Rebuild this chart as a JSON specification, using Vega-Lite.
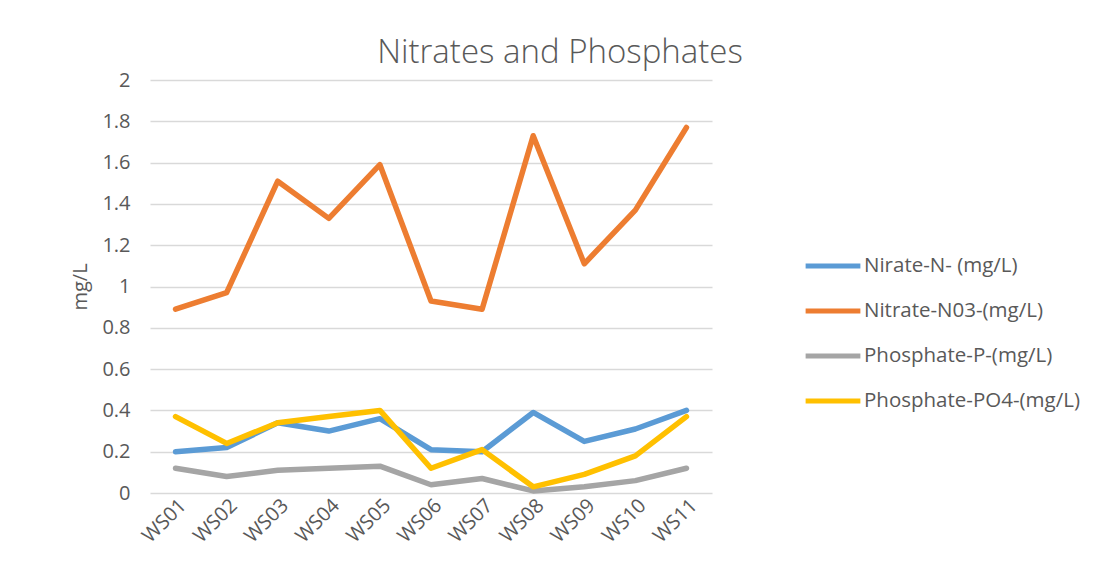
{
  "$schema": "https://vega.github.io/schema/vega-lite/v6.json",
  "width": 562,
  "height": 413,
  "autosize": {"type": "none"},
  "padding": {"left": 150, "top": 80, "right": 389, "bottom": 88},
  "background": "white",
  "title": {
    "text": "Nitrates and Phosphates",
    "font": "Open Sans",
    "fontSize": 33,
    "fontWeight": 300,
    "color": "#595959",
    "anchor": "middle",
    "dx": 129,
    "offset": 0
  },
  "config": {
    "view": {"stroke": null},
    "font": "Open Sans"
  },
  "data": {
    "values": [
      {"site": "WS01", "series": "Nirate-N- (mg/L)", "value": 0.20},
      {"site": "WS02", "series": "Nirate-N- (mg/L)", "value": 0.22},
      {"site": "WS03", "series": "Nirate-N- (mg/L)", "value": 0.34},
      {"site": "WS04", "series": "Nirate-N- (mg/L)", "value": 0.30},
      {"site": "WS05", "series": "Nirate-N- (mg/L)", "value": 0.36},
      {"site": "WS06", "series": "Nirate-N- (mg/L)", "value": 0.21},
      {"site": "WS07", "series": "Nirate-N- (mg/L)", "value": 0.20},
      {"site": "WS08", "series": "Nirate-N- (mg/L)", "value": 0.39},
      {"site": "WS09", "series": "Nirate-N- (mg/L)", "value": 0.25},
      {"site": "WS10", "series": "Nirate-N- (mg/L)", "value": 0.31},
      {"site": "WS11", "series": "Nirate-N- (mg/L)", "value": 0.40},
      {"site": "WS01", "series": "Nitrate-N03-(mg/L)", "value": 0.89},
      {"site": "WS02", "series": "Nitrate-N03-(mg/L)", "value": 0.97},
      {"site": "WS03", "series": "Nitrate-N03-(mg/L)", "value": 1.51},
      {"site": "WS04", "series": "Nitrate-N03-(mg/L)", "value": 1.33},
      {"site": "WS05", "series": "Nitrate-N03-(mg/L)", "value": 1.59},
      {"site": "WS06", "series": "Nitrate-N03-(mg/L)", "value": 0.93},
      {"site": "WS07", "series": "Nitrate-N03-(mg/L)", "value": 0.89},
      {"site": "WS08", "series": "Nitrate-N03-(mg/L)", "value": 1.73},
      {"site": "WS09", "series": "Nitrate-N03-(mg/L)", "value": 1.11},
      {"site": "WS10", "series": "Nitrate-N03-(mg/L)", "value": 1.37},
      {"site": "WS11", "series": "Nitrate-N03-(mg/L)", "value": 1.77},
      {"site": "WS01", "series": "Phosphate-P-(mg/L)", "value": 0.12},
      {"site": "WS02", "series": "Phosphate-P-(mg/L)", "value": 0.08},
      {"site": "WS03", "series": "Phosphate-P-(mg/L)", "value": 0.11},
      {"site": "WS04", "series": "Phosphate-P-(mg/L)", "value": 0.12},
      {"site": "WS05", "series": "Phosphate-P-(mg/L)", "value": 0.13},
      {"site": "WS06", "series": "Phosphate-P-(mg/L)", "value": 0.04},
      {"site": "WS07", "series": "Phosphate-P-(mg/L)", "value": 0.07},
      {"site": "WS08", "series": "Phosphate-P-(mg/L)", "value": 0.01},
      {"site": "WS09", "series": "Phosphate-P-(mg/L)", "value": 0.03},
      {"site": "WS10", "series": "Phosphate-P-(mg/L)", "value": 0.06},
      {"site": "WS11", "series": "Phosphate-P-(mg/L)", "value": 0.12},
      {"site": "WS01", "series": "Phosphate-PO4-(mg/L)", "value": 0.37},
      {"site": "WS02", "series": "Phosphate-PO4-(mg/L)", "value": 0.24},
      {"site": "WS03", "series": "Phosphate-PO4-(mg/L)", "value": 0.34},
      {"site": "WS04", "series": "Phosphate-PO4-(mg/L)", "value": 0.37},
      {"site": "WS05", "series": "Phosphate-PO4-(mg/L)", "value": 0.40},
      {"site": "WS06", "series": "Phosphate-PO4-(mg/L)", "value": 0.12},
      {"site": "WS07", "series": "Phosphate-PO4-(mg/L)", "value": 0.21},
      {"site": "WS08", "series": "Phosphate-PO4-(mg/L)", "value": 0.03},
      {"site": "WS09", "series": "Phosphate-PO4-(mg/L)", "value": 0.09},
      {"site": "WS10", "series": "Phosphate-PO4-(mg/L)", "value": 0.18},
      {"site": "WS11", "series": "Phosphate-PO4-(mg/L)", "value": 0.37}
    ]
  },
  "mark": {"type": "line", "strokeWidth": 5.5, "strokeCap": "round", "strokeJoin": "round"},
  "encoding": {
    "x": {
      "field": "site",
      "type": "nominal",
      "scale": {"type": "point", "padding": 0.5},
      "axis": {
        "title": null,
        "labelAngle": -45,
        "labelFontSize": 20,
        "labelColor": "#595959",
        "ticks": false,
        "domain": false,
        "grid": false,
        "labelPadding": 2
      }
    },
    "y": {
      "field": "value",
      "type": "quantitative",
      "scale": {"domain": [0, 2], "nice": false},
      "axis": {
        "title": "mg/L",
        "titleFontSize": 20,
        "titleFontWeight": "normal",
        "titleColor": "#595959",
        "titlePadding": 11,
        "values": [0, 0.2, 0.4, 0.6, 0.8, 1, 1.2, 1.4, 1.6, 1.8, 2],
        "format": "~g",
        "labelFontSize": 20,
        "labelColor": "#595959",
        "labelPadding": 20,
        "ticks": false,
        "domain": false,
        "gridColor": "#d9d9d9",
        "gridWidth": 1.5
      }
    },
    "color": {
      "field": "series",
      "type": "nominal",
      "scale": {
        "domain": ["Nirate-N- (mg/L)", "Nitrate-N03-(mg/L)", "Phosphate-P-(mg/L)", "Phosphate-PO4-(mg/L)"],
        "range": ["#5B9BD5", "#ED7D31", "#A5A5A5", "#FFC000"]
      },
      "legend": {
        "title": null,
        "orient": "none",
        "legendX": 653,
        "legendY": 156,
        "symbolType": "stroke",
        "symbolSize": 3000,
        "symbolStrokeWidth": 5,
        "labelFontSize": 20.5,
        "labelColor": "#595959",
        "labelOffset": 1,
        "rowPadding": 4,
        "labelLimit": 300
      }
    }
  }
}
